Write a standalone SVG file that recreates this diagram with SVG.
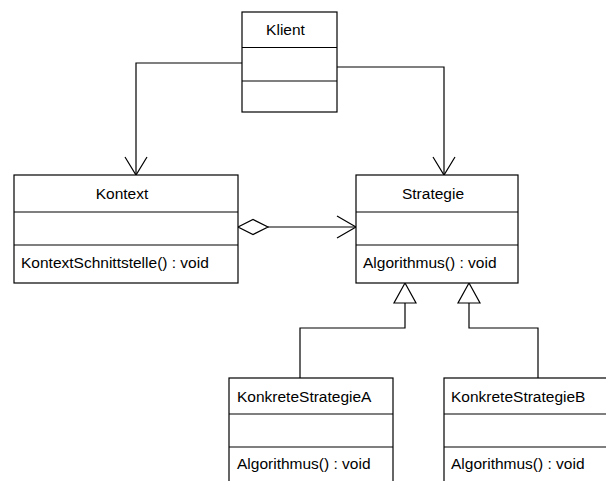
<svg xmlns="http://www.w3.org/2000/svg" width="606" height="481" viewBox="0 0 606 481">
  <style>
    .box { fill: #ffffff; stroke: #000000; stroke-width: 1.2; }
    .sep { stroke: #000000; stroke-width: 1.2; fill: none; }
    .line { stroke: #000000; stroke-width: 1.2; fill: none; }
    .head { stroke: #000000; stroke-width: 1.2; fill: #ffffff; }
    text { font-family: "Liberation Sans", Arial, sans-serif; font-size: 15.5px; fill: #000000; }
    .title { text-anchor: middle; }
  </style>
  <rect x="0" y="0" width="606" height="481" fill="#ffffff"/>

  <!-- connectors -->
  <g id="connectors">
    <!-- Klient -> Kontext -->
    <polyline class="line" points="242,63 136,63 136,175"/>
    <polyline class="line" points="125,157 136,175 147,157"/>
    <!-- Klient -> Strategie -->
    <polyline class="line" points="337,67 444,67 444,175"/>
    <polyline class="line" points="433,157 444,175 455,157"/>
    <!-- Kontext (aggregation) -> Strategie -->
    <line class="line" x1="268" y1="227" x2="356" y2="227"/>
    <polygon class="head" points="238,227 253,219.5 268,227 253,234.5"/>
    <polyline class="line" points="337,216 356,227 337,238"/>
    <!-- KonkreteStrategieA -> Strategie (generalization) -->
    <polyline class="line" points="300,378 300,328 405,328 405,303"/>
    <polygon class="head" points="405,283 394,303 416,303"/>
    <!-- KonkreteStrategieB -> Strategie (generalization) -->
    <polyline class="line" points="538,378 538,328 469,328 469,303"/>
    <polygon class="head" points="469,283 458,303 480,303"/>
  </g>

  <g id="klient">
    <rect class="box" x="242" y="12" width="95" height="100"/>
    <line class="sep" x1="242" y1="47.5" x2="337" y2="47.5"/>
    <line class="sep" x1="242" y1="81" x2="337" y2="81"/>
    <text class="title" x="285.5" y="35">Klient</text>
  </g>

  <g id="kontext">
    <rect class="box" x="14" y="175" width="224" height="108"/>
    <line class="sep" x1="14" y1="212" x2="238" y2="212"/>
    <line class="sep" x1="14" y1="245" x2="238" y2="245"/>
    <text class="title" x="122" y="199">Kontext</text>
    <text x="21" y="268">KontextSchnittstelle() : void</text>
  </g>

  <g id="strategie">
    <rect class="box" x="356" y="175" width="162" height="108"/>
    <line class="sep" x1="356" y1="212" x2="518" y2="212"/>
    <line class="sep" x1="356" y1="245" x2="518" y2="245"/>
    <text class="title" x="433" y="199">Strategie</text>
    <text x="363" y="268">Algorithmus() : void</text>
  </g>

  <g id="konkreteStrategieA">
    <rect class="box" x="229" y="378" width="164" height="108"/>
    <line class="sep" x1="229" y1="414" x2="393" y2="414"/>
    <line class="sep" x1="229" y1="447" x2="393" y2="447"/>
    <text x="237" y="402">KonkreteStrategieA</text>
    <text x="237" y="469">Algorithmus() : void</text>
  </g>

  <g id="konkreteStrategieB">
    <rect class="box" x="444" y="378" width="164" height="108"/>
    <line class="sep" x1="444" y1="414" x2="608" y2="414"/>
    <line class="sep" x1="444" y1="447" x2="608" y2="447"/>
    <text x="451" y="402">KonkreteStrategieB</text>
    <text x="451" y="469">Algorithmus() : void</text>
  </g>
</svg>
